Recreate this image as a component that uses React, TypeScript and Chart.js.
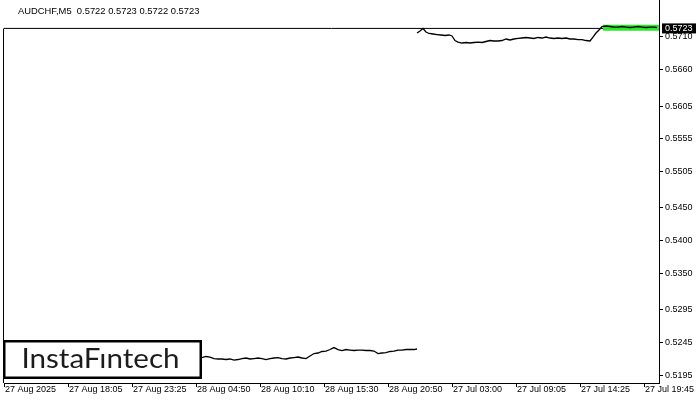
import React, { useEffect, useRef } from "react";
import { Chart, registerables } from "chart.js";

Chart.register(...registerables);

const symbolLabel = "AUDCHF,M5";
const ohlcValues = [0.5722, 0.5723, 0.5722, 0.5723];
const lastPrice = 0.5723;
const logoText = "InstaF\u0131ntech";

const xTickBars = [0, 64, 128, 192, 256, 320, 384, 448, 512, 576, 640];
const xTickLabels = [
  "27 Aug 2025",
  "27 Aug 18:05",
  "27 Aug 23:25",
  "28 Aug 04:50",
  "28 Aug 10:10",
  "28 Aug 15:30",
  "28 Aug 20:50",
  "27 Jul 03:00",
  "27 Jul 09:05",
  "27 Jul 14:25",
  "27 Jul 19:45",
];

const yTickValues = [
  0.5195, 0.5245, 0.5295, 0.535, 0.54, 0.545, 0.5505, 0.5555, 0.5605, 0.566, 0.571,
];

const s1Bars = [
  198, 202, 206, 210, 214, 218, 222, 226, 230, 234, 238, 242, 246, 250, 254, 258, 262, 266,
  270, 274, 278, 282, 286, 290, 294, 298, 302, 306, 310, 314, 318, 322, 326, 330, 334, 338,
  342, 346, 350, 354, 358, 362, 366, 370, 374, 378, 382, 386, 390, 394, 398, 402, 406, 410, 413,
];
const s1Prices = [
  0.52226, 0.52242, 0.52234, 0.52211, 0.52204, 0.52204, 0.52196, 0.52204, 0.52188, 0.52196,
  0.52211, 0.52219, 0.52204, 0.52211, 0.52219, 0.52211, 0.52196, 0.52211, 0.52219, 0.52226,
  0.52211, 0.52204, 0.52219, 0.52226, 0.52234, 0.52219, 0.52211, 0.52249, 0.52287, 0.52295,
  0.52318, 0.52325, 0.52348, 0.52378, 0.52348, 0.52333, 0.52348, 0.5234, 0.52333, 0.5234,
  0.5234, 0.52333, 0.52333, 0.52325, 0.52287, 0.52295, 0.52302, 0.52318, 0.52325, 0.5234,
  0.5234, 0.52348, 0.52348, 0.52348, 0.52356,
];

const s2Bars = [
  413, 416, 419, 422, 425, 429, 433, 437, 441, 445, 448, 451, 454, 458, 462, 466, 470, 474,
  478, 482, 486, 490, 494, 498, 502, 506, 510, 514, 518, 522, 526, 530, 534, 538, 542, 546,
  550, 554, 558, 562, 566, 570, 574, 578, 582, 586, 589, 592, 595, 598, 602, 606, 610, 614,
  618, 622, 626, 630, 634, 638, 642, 646, 650, 653,
];
const s2Prices = [
  0.5716, 0.57191, 0.57229, 0.57175, 0.57153, 0.57145, 0.57137, 0.5713, 0.57122, 0.5713,
  0.57115, 0.57046, 0.57023, 0.57008, 0.57016, 0.57008, 0.57016, 0.57023, 0.57016, 0.57031,
  0.57046, 0.57039, 0.57039, 0.57046, 0.57069, 0.57054, 0.57069, 0.57077, 0.57084, 0.57092,
  0.57084, 0.57077, 0.57092, 0.57084, 0.57099, 0.57084, 0.57077, 0.57084, 0.57077, 0.57084,
  0.57069, 0.57069, 0.57061, 0.57061, 0.57046, 0.57039, 0.57099, 0.5716, 0.57206, 0.57259,
  0.57267, 0.57259, 0.57251, 0.57251, 0.57259, 0.57251, 0.57244, 0.57251, 0.57259, 0.57251,
  0.57244, 0.57251, 0.57251, 0.57244,
];

const patternBars = [599, 655];
const patternPrices = [0.5724, 0.5724];
const priceLineBars = [0, 655];

const AXIS_FONT = { family: "'Liberation Sans', Arial, sans-serif", size: 9 };

function toPoints(xs: number[], ys: number[]) {
  return xs.map((x, i) => ({ x, y: ys[i] }));
}

const overlayPlugin = {
  id: "overlay",
  afterDraw(chart: any) {
    const { ctx, chartArea, scales } = chart;
    const py = scales.y.getPixelForValue(lastPrice);
    ctx.save();
    // left frame line
    ctx.strokeStyle = "#000";
    ctx.lineWidth = 1;
    ctx.beginPath();
    ctx.moveTo(chartArea.left - 0.5, Math.round(py) + 0.5);
    ctx.lineTo(chartArea.left - 0.5, chartArea.bottom);
    ctx.stroke();

    // price tag
    ctx.fillStyle = "#000";
    ctx.fillRect(chartArea.right + 3, py - 5, 34, 10);
    ctx.fillStyle = "#fff";
    ctx.font = "9px 'Liberation Sans', Arial, sans-serif";
    ctx.textBaseline = "middle";
    ctx.textAlign = "left";
    ctx.fillText(lastPrice.toFixed(4), chartArea.right + 6, py);

    // title
    ctx.fillStyle = "#000";
    ctx.font = "9.4px 'Liberation Sans', Arial, sans-serif";
    ctx.fillText(
      symbolLabel + "  " + ohlcValues.map((v) => v.toFixed(4)).join(" "),
      18,
      11
    );

    // logo
    ctx.fillStyle = "#fff";
    ctx.fillRect(4, 341, 197, 37);
    ctx.strokeStyle = "#000";
    ctx.lineWidth = 2.5;
    ctx.strokeRect(4.25, 341.25, 196.5, 36.5);
    ctx.fillStyle = "#1c1c1c";
    ctx.font = "26px Lato, 'Noto Sans', sans-serif";
    ctx.textBaseline = "alphabetic";
    const w = ctx.measureText(logoText).width;
    ctx.translate(21.5, 368.3);
    ctx.scale(158 / w, 1);
    ctx.fillText(logoText, 0, 0);
    ctx.restore();
  },
};

export default function App() {
  const canvasRef = useRef<HTMLCanvasElement | null>(null);

  useEffect(() => {
    if (!canvasRef.current) return;
    const chart = new Chart(canvasRef.current, {
      type: "line",
      data: {
        datasets: [
          {
            data: toPoints(s1Bars, s1Prices),
            borderColor: "#000",
            borderWidth: 1.3,
            pointRadius: 0,
            tension: 0,
            fill: false,
          },
          {
            data: toPoints(s2Bars, s2Prices),
            borderColor: "#000",
            borderWidth: 1.3,
            pointRadius: 0,
            tension: 0,
            fill: false,
          },
          {
            data: toPoints(patternBars, patternPrices),
            borderColor: "#2be82b",
            borderWidth: 6,
            borderCapStyle: "butt",
            pointRadius: 0,
            tension: 0,
            fill: false,
          },
          {
            data: toPoints(priceLineBars, [lastPrice, lastPrice]),
            borderColor: "#000",
            borderWidth: 1,
            pointRadius: 0,
            tension: 0,
            fill: false,
          },
        ],
      },
      options: {
        responsive: false,
        animation: false,
        events: [],
        layout: { padding: { left: 4, top: 0, right: 0, bottom: 0 } },
        plugins: {
          legend: { display: false },
          tooltip: { enabled: false },
          title: { display: false },
        },
        scales: {
          x: {
            type: "linear",
            position: "bottom",
            min: 0,
            max: 655,
            grid: {
              drawOnChartArea: false,
              drawTicks: true,
              tickLength: 4,
              color: "#000",
            },
            border: { display: true, color: "#000" },
            ticks: {
              font: AXIS_FONT,
              color: "#000",
              align: "start",
              maxRotation: 0,
              minRotation: 0,
              autoSkip: false,
              padding: -3,
              labelOffset: 1,
              callback: (_v: any, i: number) => xTickLabels[i],
            },
            afterBuildTicks: (scale: any) => {
              scale.ticks = xTickBars.map((v) => ({ value: v }));
            },
            afterFit: (scale: any) => {
              scale.height = 17;
              scale.paddingLeft = 0;
              scale.paddingRight = 0;
            },
          },
          y: {
            type: "linear",
            position: "right",
            min: 0.51839,
            max: 0.57662,
            grid: {
              drawOnChartArea: false,
              drawTicks: true,
              tickLength: 4,
              color: "#000",
            },
            border: { display: true, color: "#000" },
            ticks: {
              font: AXIS_FONT,
              color: "#000",
              padding: 2,
              autoSkip: false,
              crossAlign: "near",
              callback: (v: any) => Number(v).toFixed(4),
            },
            afterBuildTicks: (scale: any) => {
              scale.ticks = yTickValues.map((v) => ({ value: v }));
            },
            afterFit: (scale: any) => {
              scale.width = 41;
              scale.paddingTop = 0;
              scale.paddingBottom = 0;
            },
          },
        },
      } as any,
      plugins: [overlayPlugin],
    });
    return () => chart.destroy();
  }, []);

  return (
    <div style={{ position: "absolute", left: 0, top: 0, width: 700, height: 400, background: "#fff" }}>
      <canvas ref={canvasRef} width={700} height={400} style={{ display: "block" }} />
    </div>
  );
}
